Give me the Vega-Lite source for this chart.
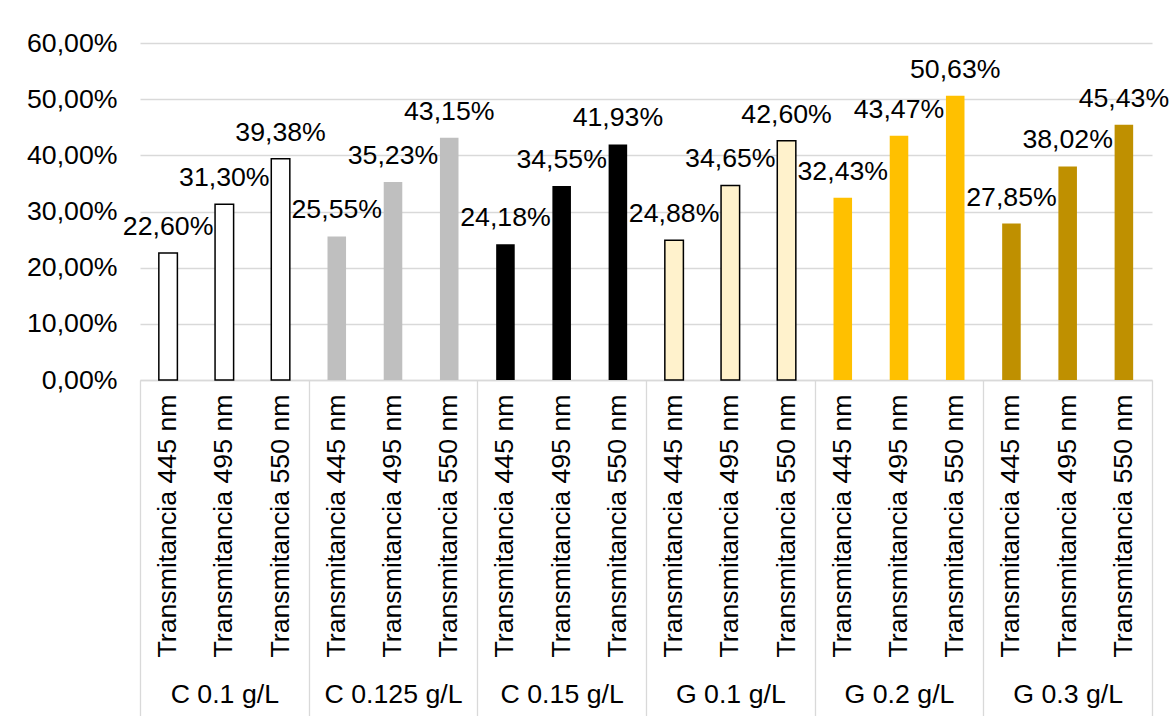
{
  "$schema": "https://vega.github.io/schema/vega-lite/v6.json",
  "width": 1012,
  "height": 337,
  "autosize": {"type": "none"},
  "padding": {"left": 140, "top": 43, "right": 17, "bottom": 336},
  "background": "white",
  "config": {
    "view": {"stroke": null},
    "font": "Liberation Sans",
    "locale": {"number": {"decimal": ",", "thousands": ".", "grouping": [3], "currency": ["", " €"]}}
  },
  "data": {
    "values": [
      {"group": "C 0.1 g/L", "cat": "C 0.1 g/L|Transmitancia 445 nm", "value": 0.2260},
      {"group": "C 0.1 g/L", "cat": "C 0.1 g/L|Transmitancia 495 nm", "value": 0.3130},
      {"group": "C 0.1 g/L", "cat": "C 0.1 g/L|Transmitancia 550 nm", "value": 0.3938},
      {"group": "C 0.125 g/L", "cat": "C 0.125 g/L|Transmitancia 445 nm", "value": 0.2555},
      {"group": "C 0.125 g/L", "cat": "C 0.125 g/L|Transmitancia 495 nm", "value": 0.3523},
      {"group": "C 0.125 g/L", "cat": "C 0.125 g/L|Transmitancia 550 nm", "value": 0.4315},
      {"group": "C 0.15 g/L", "cat": "C 0.15 g/L|Transmitancia 445 nm", "value": 0.2418},
      {"group": "C 0.15 g/L", "cat": "C 0.15 g/L|Transmitancia 495 nm", "value": 0.3455},
      {"group": "C 0.15 g/L", "cat": "C 0.15 g/L|Transmitancia 550 nm", "value": 0.4193},
      {"group": "G 0.1 g/L", "cat": "G 0.1 g/L|Transmitancia 445 nm", "value": 0.2488},
      {"group": "G 0.1 g/L", "cat": "G 0.1 g/L|Transmitancia 495 nm", "value": 0.3465},
      {"group": "G 0.1 g/L", "cat": "G 0.1 g/L|Transmitancia 550 nm", "value": 0.4260},
      {"group": "G 0.2 g/L", "cat": "G 0.2 g/L|Transmitancia 445 nm", "value": 0.3243},
      {"group": "G 0.2 g/L", "cat": "G 0.2 g/L|Transmitancia 495 nm", "value": 0.4347},
      {"group": "G 0.2 g/L", "cat": "G 0.2 g/L|Transmitancia 550 nm", "value": 0.5063},
      {"group": "G 0.3 g/L", "cat": "G 0.3 g/L|Transmitancia 445 nm", "value": 0.2785},
      {"group": "G 0.3 g/L", "cat": "G 0.3 g/L|Transmitancia 495 nm", "value": 0.3802},
      {"group": "G 0.3 g/L", "cat": "G 0.3 g/L|Transmitancia 550 nm", "value": 0.4543}
    ]
  },
  "layer": [
    {
      "layer": [
        {
          "mark": {"type": "bar", "strokeWidth": 1.5},
          "encoding": {
            "x": {
              "field": "cat", "type": "nominal", "sort": null,
              "scale": {"paddingInner": 0.67, "paddingOuter": 0.335},
              "axis": {
                "orient": "bottom", "title": null, "ticks": false, "grid": false,
                "domainColor": "#d9d9d9", "domainWidth": 1.3,
                "labelAngle": -90, "labelAlign": "right", "labelBaseline": "middle",
                "labelPadding": 14, "labelFontSize": 26.7, "labelColor": "#000000",
                "labelExpr": "split(datum.value, '|')[1]", "labelOverlap": false, "labelLimit": 0
              }
            },
            "y": {
              "field": "value", "type": "quantitative",
              "scale": {"domain": [0, 0.6], "nice": false},
              "axis": {
                "title": null, "values": [0, 0.1, 0.2, 0.3, 0.4, 0.5, 0.6], "format": ".2%",
                "grid": true, "gridColor": "#d9d9d9", "gridWidth": 1.3,
                "domain": false, "ticks": false, "labelPadding": 23,
                "labelFontSize": 26.7, "labelColor": "#000000"
              }
            },
            "color": {
              "field": "group", "type": "nominal", "sort": null,
              "scale": {
                "domain": ["C 0.1 g/L", "C 0.125 g/L", "C 0.15 g/L", "G 0.1 g/L", "G 0.2 g/L", "G 0.3 g/L"],
                "range": ["#ffffff", "#bfbfbf", "#000000", "#fff2cc", "#ffc000", "#bf9000"]
              },
              "legend": null
            },
            "stroke": {
              "field": "group", "type": "nominal", "sort": null,
              "scale": {
                "domain": ["C 0.1 g/L", "C 0.125 g/L", "C 0.15 g/L", "G 0.1 g/L", "G 0.2 g/L", "G 0.3 g/L"],
                "range": ["#000000", "transparent", "transparent", "#000000", "transparent", "transparent"]
              },
              "legend": null
            }
          }
        },
        {
          "mark": {"type": "text", "baseline": "alphabetic", "dy": -18, "fontSize": 26.7, "color": "#000000"},
          "encoding": {
            "x": {"field": "cat", "type": "nominal", "sort": null},
            "y": {"field": "value", "type": "quantitative"},
            "text": {"field": "value", "type": "quantitative", "format": ".2%"}
          }
        }
      ]
    },
    {
      "mark": {"type": "bar", "opacity": 0},
      "encoding": {
        "x": {
          "field": "group", "type": "nominal", "sort": null,
          "scale": {"paddingInner": 0, "paddingOuter": 0},
          "axis": {
            "orient": "bottom", "title": null, "domain": false, "grid": false,
            "tickBand": "extent", "tickSize": 340, "tickColor": "#d9d9d9", "tickWidth": 1.3,
            "labelAngle": 0, "labelBaseline": "alphabetic", "labelPadding": -18,
            "labelFontSize": 26.7, "labelColor": "#000000"
          }
        }
      }
    }
  ],
  "resolve": {"scale": {"x": "independent"}, "axis": {"x": "independent"}}
}
